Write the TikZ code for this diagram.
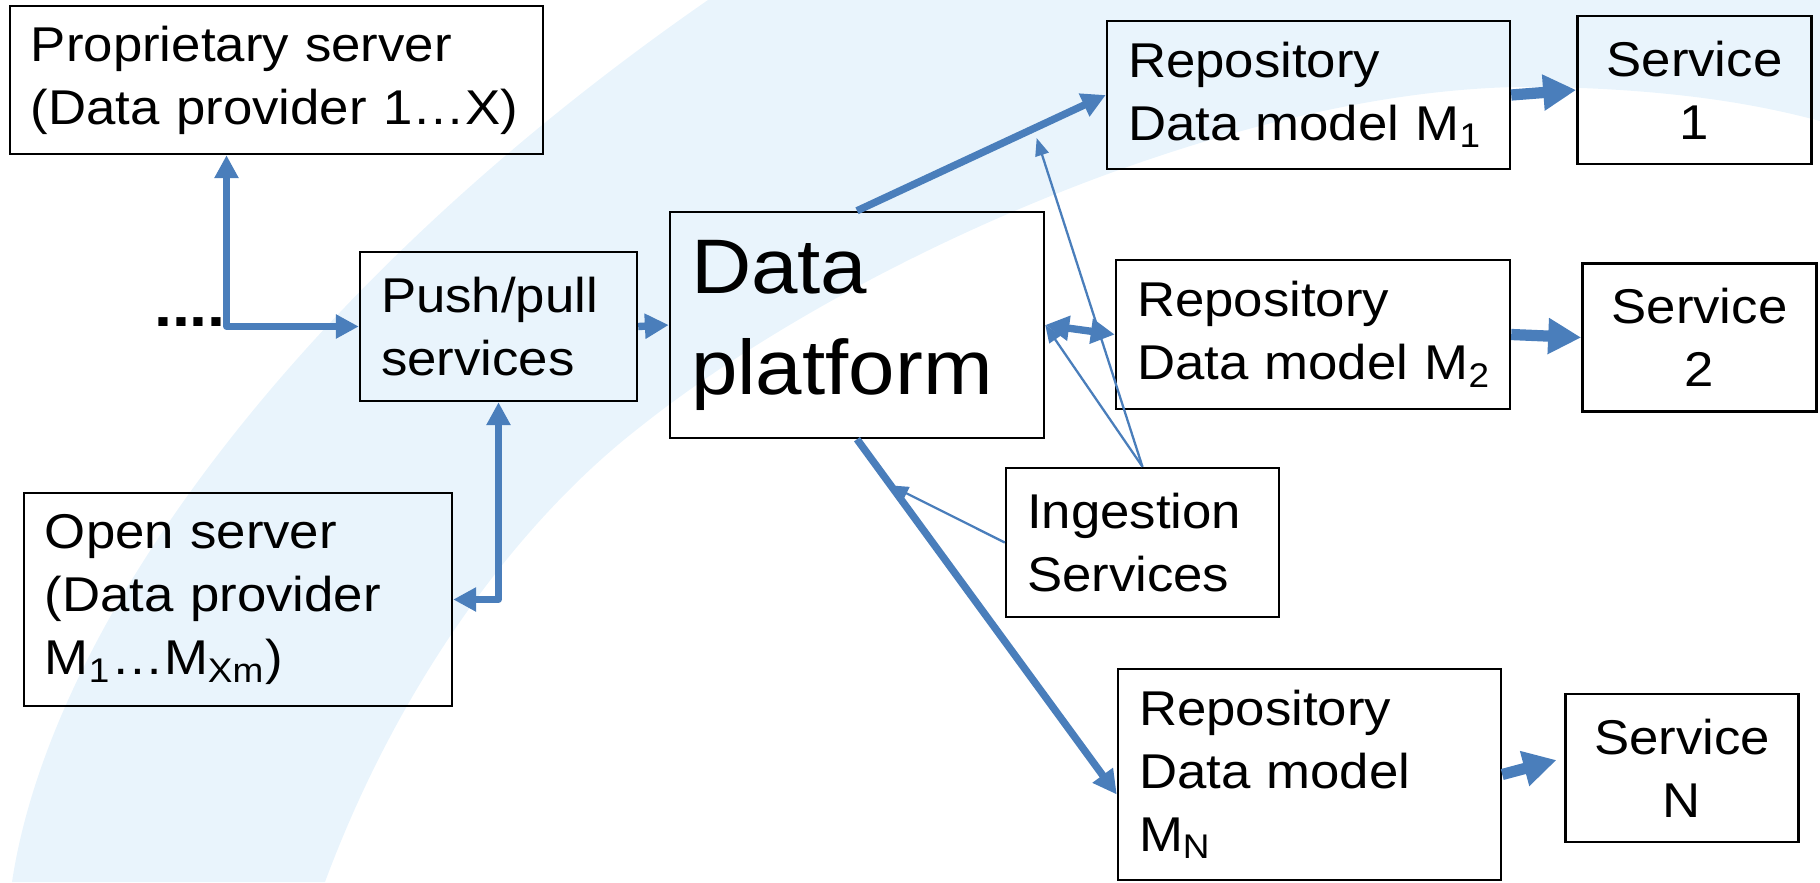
\documentclass[tikz,border=0pt]{standalone}
\usepackage{fontspec}
\setmainfont{Liberation Sans}[FakeStretch=1.08]
\usepackage{tikz}
\usetikzlibrary{arrows.meta,positioning,calc}
\usepackage{xcolor}
\definecolor{pblue}{RGB}{74,126,187}
\definecolor{swoosh}{RGB}{233,244,252}

\begin{document}
\begin{tikzpicture}[
    box/.style={rectangle, draw=black, line width=0.7pt, align=left, inner xsep=0.21cm, inner ysep=0pt, font=\fontsize{13.9pt}{17.9pt}\selectfont},
    svc/.style={box, align=center, text width=1.92cm, minimum height=1.48cm},
    flow/.style={draw=pblue, line width=2.1pt, >={Triangle[length=6.8pt, width=6.8pt]}, ->},
    serve/.style={draw=pblue, line width=3.2pt, -{Triangle[length=9.4pt, width=9.7pt]}},
    link/.style={draw=pblue, line width=1.9pt, line join=round, {Triangle[length=6.5pt, width=6.5pt]}-{Triangle[length=6.5pt, width=6.5pt]}},
    feed/.style={draw=pblue, line width=0.65pt, -{Triangle[length=5pt, width=3.9pt]}}
  ]
    \useasboundingbox (0,0) rectangle (18.2,8.82);
    \fill[swoosh] (0.12,0) .. controls (0.50,2.52) and (2.90,5.92) .. (7.08,8.82) -- (18.2,8.82) -- (18.2,7.61)
      .. controls (17.60,7.77) and (16.80,7.92) .. (15.50,7.95)
      .. controls (12.50,8.02) and (8.50,6.22) .. (6.40,4.55)
      .. controls (5.20,3.62) and (4.00,2.02) .. (3.25,0) -- cycle;

    \node[box, minimum height=1.48cm, text width=4.91cm] (prop) at (2.765,8.02) {Proprietary server\\(Data~provider~1…X)};
    \node[box, minimum height=1.49cm, text width=2.35cm] (push) at (4.985,5.555) {Push/pull\\services};
    \node[box, minimum height=2.13cm, text width=3.86cm] (open) at (2.38,2.825) {Open server\\(Data provider\\M\textsubscript{1}…M\textsubscript{Xm})};
    \node[box, minimum height=2.26cm, text width=3.32cm, font=\fontsize{22pt}{28.7pt}\selectfont] (dp) at (8.57,5.57) {Data\\platform};
    \node[box, minimum height=1.48cm, text width=3.61cm] (repo1) at (13.085,7.87) {Repository\\Data~model~M\textsubscript{1}};
    \node[svc, right=0.65cm of repo1, yshift=0.05cm] (svc1) {Service\\1};
    \node[box, minimum height=1.49cm, text width=3.52cm] (repo2) at (13.13,5.475) {Repository\\Data~model~M\textsubscript{2}};
    \node[svc, right=0.70cm of repo2, yshift=-0.03cm] (svc2) {Service\\2};
    \node[box, minimum height=1.49cm, text width=2.31cm] (ingest) at (11.425,3.395) {Ingestion\\Services};
    \node[box, minimum height=2.11cm, text width=3.41cm] (repoN) at (13.095,1.075) {Repository\\Data model\\M\textsubscript{N}};
    \node[svc, right=0.62cm of repoN, yshift=0.065cm, text width=1.91cm] (svcN) {Service\\N};

    \coordinate (propfoot) at ([xshift=-0.5cm]prop.south);
    \coordinate (elbow) at (propfoot |- push.west);
    \node[anchor=base east, inner sep=0pt, font=\fontsize{17pt}{17pt}\selectfont\bfseries] (dots) at (elbow) {....};
    \draw[link] (push.west) -- (elbow) -- (propfoot);
    \draw[link] (push.south) |- (open.east);
    \draw[flow] (push.east) -- (dp.west);
    \draw[flow] (dp.north) -- coordinate[pos=0.71] (tap1) (repo1.west);
    \draw[flow, <->] (dp.east) -- (repo2.west);
    \draw[flow] (dp.south) -- coordinate[pos=0.13] (tap3) ([yshift=-0.2cm]repoN.west);
    \draw[serve] (repo1.east) -- (svc1.west);
    \draw[serve] (repo2.east) -- (svc2.west);
    \draw[serve, shorten >=0.08cm] (repoN.east) -- ([yshift=0.1cm]svcN.west);
    \draw[feed, shorten >=0.1cm] (ingest.north) -- (tap1);
    \draw[feed] (ingest.north) -- (dp.east);
    \draw[feed] (ingest.west) -- (tap3);
\end{tikzpicture}
\end{document}
